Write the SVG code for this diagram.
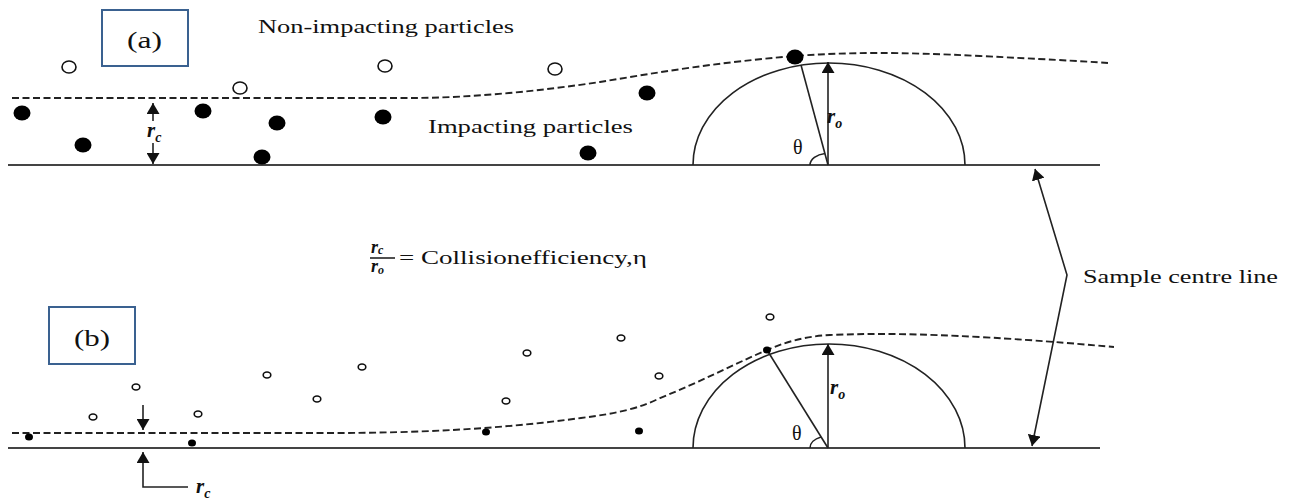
<svg xmlns="http://www.w3.org/2000/svg" width="1296" height="499" viewBox="0 0 1296 499">
<style>
.ln{stroke:#222;stroke-width:1.6;fill:none}
.base{stroke:#444;stroke-width:1.8;fill:none}
.dash{stroke:#222;stroke-width:1.9;fill:none;stroke-dasharray:7 3.5}
.box{fill:#fff;stroke:#3a6190;stroke-width:2}
.t{font-family:"Liberation Serif","Times New Roman",serif;fill:#111}
.sym{font-family:"Liberation Serif","Times New Roman",serif;fill:#111;font-style:italic;font-weight:bold}
.open{fill:#fff;stroke:#111;stroke-width:1.6}
.fill{fill:#000}
</style>
<defs>
<marker id="ah" viewBox="0 0 11 13" refX="11" refY="6.5" markerWidth="11" markerHeight="13" markerUnits="userSpaceOnUse" orient="auto-start-reverse">
<path d="M0,0 L11,6.5 L0,13 z" fill="#111"/>
</marker>
</defs>
<rect width="1296" height="499" fill="#fff"/>

<g id="panel-a-label">
<rect class="box" x="102" y="10" width="86" height="56"/>
<text class="t" x="127" y="48" font-size="24" textLength="35" lengthAdjust="spacingAndGlyphs">(a)</text>
</g>
<g id="panel-b-label">
<rect class="box" x="49" y="307" width="86" height="57"/>
<text class="t" x="74" y="346" font-size="24" textLength="36" lengthAdjust="spacingAndGlyphs">(b)</text>
</g>

<g id="texts">
<text class="t" x="258" y="33" font-size="18.5" textLength="256" lengthAdjust="spacingAndGlyphs">Non-impacting particles</text>
<text class="t" x="428" y="133" font-size="18.5" textLength="205" lengthAdjust="spacingAndGlyphs">Impacting particles</text>
<text class="t" x="1083" y="283" font-size="19.5" textLength="195" lengthAdjust="spacingAndGlyphs">Sample centre line</text>
</g>

<g id="formula">
<text class="sym" x="371" y="253" font-size="18">r<tspan font-size="12" dy="1">c</tspan></text>
<line class="ln" x1="370" y1="258" x2="395" y2="258" stroke-width="1.3"/>
<text class="sym" x="371" y="272" font-size="18">r<tspan font-size="12" dy="2">o</tspan></text>
<text class="t" x="399" y="264" font-size="19" textLength="248" lengthAdjust="spacingAndGlyphs">= Collisionefficiency,η</text>
</g>

<g id="connectors">
<!-- panel a -->
<line class="base" x1="8" y1="165" x2="1100" y2="165"/>
<path class="dash" d="M12,98 L410,98 C470,98 540,91 600,82 C660,72 720,62 795,56 C850,52 900,52 980,56 C1040,59 1080,61 1108,63"/>
<path class="ln" d="M693,165 A136 102 0 0 1 965,165"/>
<line class="ln" x1="828" y1="165" x2="828" y2="62" marker-end="url(#ah)"/>
<line class="ln" x1="828" y1="165" x2="801" y2="65"/>
<path class="ln" d="M810,165 A18 12 0 0 1 825,153.5"/>
<line class="ln" x1="153" y1="121" x2="153" y2="103" marker-end="url(#ah)"/>
<line class="ln" x1="153" y1="143" x2="153" y2="164" marker-end="url(#ah)"/>
<!-- panel b -->
<line class="base" x1="8" y1="448" x2="1100" y2="448"/>
<path class="dash" d="M12,433 L330,433 C420,433 500,429 581,418 C620,413 640,408 660,398 C700,382 730,366 767,350 C790,340 810,336 830,335 C880,333 920,334 980,337 C1050,341 1090,345 1114,347"/>
<path class="ln" d="M693,448 A136 104 0 0 1 965,448"/>
<line class="ln" x1="828" y1="448" x2="828" y2="344" marker-end="url(#ah)"/>
<line class="ln" x1="828" y1="448" x2="767" y2="350"/>
<path class="ln" d="M810,448 A18 12 0 0 1 821,437"/>
<line class="ln" x1="143" y1="405" x2="143" y2="430" marker-end="url(#ah)"/>
<polyline class="ln" points="188,487 143,487 143,452" marker-end="url(#ah)"/>
<!-- sample centre line -->
<polyline class="ln" points="1035,169 1067,275 1032,446" marker-start="url(#ah)" marker-end="url(#ah)"/>
</g>

<g id="labels">
<text class="sym" x="147" y="137" font-size="21">r<tspan font-size="14" dy="5">c</tspan></text>
<text class="sym" x="827" y="123" font-size="21">r<tspan font-size="14" dy="5">o</tspan></text>
<text class="t" x="793" y="154" font-size="20">θ</text>
<text class="sym" x="830" y="394" font-size="21">r<tspan font-size="14" dy="5">o</tspan></text>
<text class="t" x="792" y="440" font-size="20">θ</text>
<text class="sym" x="196" y="493" font-size="21">r<tspan font-size="14" dy="5">c</tspan></text>
</g>

<g id="particles-a">
<ellipse class="open" cx="69" cy="67" rx="7" ry="6"/>
<ellipse class="open" cx="240" cy="88" rx="7" ry="6"/>
<ellipse class="open" cx="385" cy="66" rx="7" ry="6"/>
<ellipse class="open" cx="555" cy="69" rx="7" ry="6"/>
<ellipse class="fill" cx="22" cy="113" rx="8.5" ry="7.5"/>
<ellipse class="fill" cx="83" cy="145" rx="8.5" ry="7.5"/>
<ellipse class="fill" cx="203" cy="111" rx="8.5" ry="7.5"/>
<ellipse class="fill" cx="277" cy="123" rx="8.5" ry="7.5"/>
<ellipse class="fill" cx="262" cy="157" rx="8.5" ry="7.5"/>
<ellipse class="fill" cx="383" cy="117" rx="8.5" ry="7.5"/>
<ellipse class="fill" cx="588" cy="153" rx="8.5" ry="7.5"/>
<ellipse class="fill" cx="647" cy="93" rx="8.5" ry="7.5"/>
<ellipse class="fill" cx="795" cy="57" rx="8.5" ry="7.5"/>
</g>

<g id="particles-b">
<ellipse class="open" cx="93" cy="417" rx="3.8" ry="3"/>
<ellipse class="open" cx="136" cy="387" rx="3.8" ry="3"/>
<ellipse class="open" cx="198" cy="414" rx="3.8" ry="3"/>
<ellipse class="open" cx="267" cy="375" rx="3.8" ry="3"/>
<ellipse class="open" cx="317" cy="399" rx="3.8" ry="3"/>
<ellipse class="open" cx="362" cy="367" rx="3.8" ry="3"/>
<ellipse class="open" cx="506" cy="401" rx="3.8" ry="3"/>
<ellipse class="open" cx="527" cy="353" rx="3.8" ry="3"/>
<ellipse class="open" cx="621" cy="338" rx="3.8" ry="3"/>
<ellipse class="open" cx="659" cy="376" rx="3.8" ry="3"/>
<ellipse class="open" cx="770" cy="317" rx="3.8" ry="3"/>
<ellipse class="fill" cx="29" cy="437" rx="4" ry="3.5"/>
<ellipse class="fill" cx="192" cy="443" rx="4" ry="3.5"/>
<ellipse class="fill" cx="486" cy="432" rx="4" ry="3.5"/>
<ellipse class="fill" cx="639" cy="431" rx="4" ry="3.5"/>
<ellipse class="fill" cx="767" cy="350" rx="4" ry="3.5"/>
</g>
</svg>
